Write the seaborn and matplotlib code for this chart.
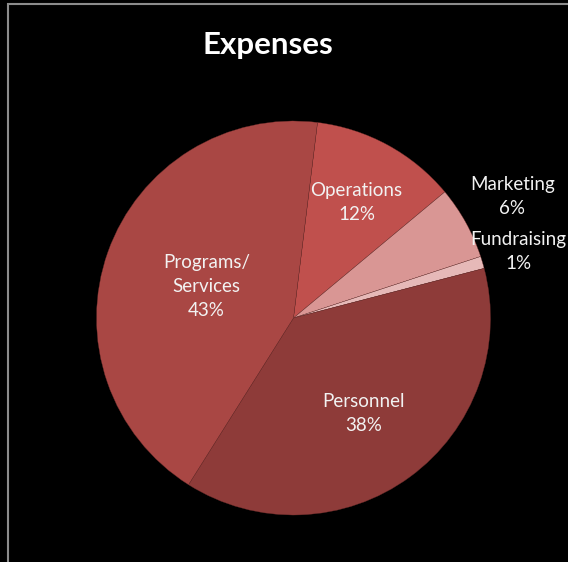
# -*- coding:utf-8 -*-
# Expenses pie chart
import matplotlib
matplotlib.use('Agg')
import matplotlib.pyplot as plt
import matplotlib.patches as mpatches
import seaborn as sns
import numpy as np

# data (clockwise from the top, as drawn)
categories = ['Operations', 'Marketing', 'Fundraising', 'Personnel', 'Programs/\nServices']
values = [12, 6, 1, 38, 43]
colors = ['#C0504D', '#D99694', '#E6B9B8', '#8E3B39', '#A94744']

# where each label sits, as a fraction of the radius
label_dist = [0.67, 1.27, 1.19, 0.6, 0.47]

sns.set_theme(style='dark', rc={'figure.facecolor': 'black', 'axes.facecolor': 'black'})
plt.rcParams['font.family'] = ['Lato', 'DejaVu Sans']

fig = plt.figure(figsize=(5.68, 5.62), dpi=100)
fig.patch.set_facecolor('black')

# outer chart border (cut off at the right and bottom)
fig.patches.append(mpatches.Rectangle((8 / 568, -0.1), 1.2, (562 - 4) / 562 + 0.1,
                                      transform=fig.transFigure, fill=False,
                                      edgecolor='#8C8C8C', linewidth=1.5))

ax = fig.add_axes([(293.5 - 197) / 568, (562 - 318 - 197) / 562, 394 / 568, 394 / 562])
wedges, _ = ax.pie(values, colors=colors, startangle=83, counterclock=False,
                   wedgeprops={'edgecolor': '#6a2c2a', 'linewidth': 0.25})
ax.set_xlim(-1, 1)
ax.set_ylim(-1, 1)
ax.set_aspect('equal')
ax.axis('off')

total = float(sum(values))
for w, name, v, d in zip(wedges, categories, values, label_dist):
    ang = np.deg2rad((w.theta1 + w.theta2) / 2.0)
    x, y = d * np.cos(ang), d * np.sin(ang)
    ax.text(x, y, '%s\n%d%%' % (name, round(v / total * 100)), ha='center', va='center',
            color='#F2F2F2', fontsize=13.5, linespacing=1.5, clip_on=False)

fig.text(268 / 568, 1 - 45 / 562, 'Expenses', ha='center', va='center',
         color='white', fontsize=22.5, fontweight='bold')

fig.savefig('out.png', dpi=100, facecolor='black')
